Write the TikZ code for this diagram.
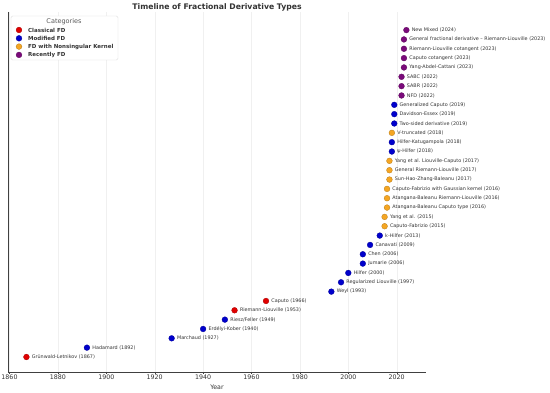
\documentclass[tikz,border=0pt]{standalone}
\usepackage{fontspec}
\setmainfont{DejaVu Sans}
\definecolor{cr}{HTML}{E00000}
\definecolor{cb}{HTML}{0000CC}
\definecolor{co}{HTML}{F5A623}
\definecolor{cp}{HTML}{7A0A7A}
\definecolor{txt}{HTML}{333333}
\begin{document}
\begin{tikzpicture}[x=1pt,y=1pt,
  dot/.style={circle,fill=#1,draw=#1!75!black,line width=0.3pt,inner sep=0pt,minimum size=5.8pt},
  lbl/.style={anchor=west,font=\fontsize{4.85}{6}\selectfont,text=txt,inner sep=0pt},
  ticklbl/.style={anchor=north,font=\fontsize{6.3}{7}\selectfont,text=txt,inner sep=0pt},
  legtxt/.style={anchor=west,font=\bfseries\fontsize{5.5}{7}\selectfont,text=txt,inner sep=0pt},
  gridline/.style={draw=gray!12,line width=0.4pt},
  spine/.style={draw=black!75,line width=0.6pt}]
\useasboundingbox (0,0) rectangle (550,392);
\fill[white] (0,0) rectangle (550,392);
% grid and ticks
\foreach \yy in {1860,1880,...,2020}{
  \pgfmathsetmacro\xx{9.5+(\yy-1860)*2.42}
  \draw[gridline] (\xx,20) -- (\xx,380);
  \draw[black!75,line width=0.4pt] (\xx,20) -- (\xx,18);
  \node[ticklbl] (t\yy) at (\xx,17) {\yy};
}
% spines
\coordinate (o) at (8,20);
\coordinate (xe) at (426,20);
\coordinate (ye) at (8,380);
\draw[spine] (ye) -- (o) -- (xe);
\node[font=\fontsize{6.3}{7}\selectfont,text=txt] (xl) at (217,5) {Year};
\node[font=\bfseries\fontsize{7.7}{9}\selectfont,text=txt] (title) at (217,385) {Timeline of Fractional Derivative Types};
% points
\foreach \i/\yy/\c/\t in {
 0/1867/cr/{Grünwald-Letnikov (1867)},
 1/1892/cb/{Hadamard (1892)},
 2/1927/cb/{Marchaud (1927)},
 3/1940/cb/{Erdélyi-Kober (1940)},
 4/1949/cb/{Riesz/Feller (1949)},
 5/1953/cr/{Riemann-Liouville (1953)},
 6/1966/cr/{Caputo (1966)},
 7/1993/cb/{Weyl (1993)},
 8/1997/cb/{Regularized Liouville (1997)},
 9/2000/cb/{Hilfer (2000)},
 10/2006/cb/{Jumarie (2006)},
 11/2006/cb/{Chen (2006)},
 12/2009/cb/{Canavati (2009)},
 13/2013/cb/{k-Hilfer (2013)},
 14/2015/co/{Caputo-Fabrizio (2015)},
 15/2015/co/{Yang et al. (2015)},
 16/2016/co/{Atangana-Baleanu Caputo type (2016)},
 17/2016/co/{Atangana-Baleanu Riemann-Liouville (2016)},
 18/2016/co/{Caputo-Fabrizio with Gaussian kernel (2016)},
 19/2017/co/{Sun-Hao-Zhang-Baleanu (2017)},
 20/2017/co/{General Riemann-Liouville (2017)},
 21/2017/co/{Yang et al. Liouville-Caputo (2017)},
 22/2018/cb/{ψ-Hilfer (2018)},
 23/2018/cb/{Hilfer-Katugampola (2018)},
 24/2018/co/{V-truncated (2018)},
 25/2019/cb/{Two-sided derivative (2019)},
 26/2019/cb/{Davidson-Essex (2019)},
 27/2019/cb/{Generalized Caputo (2019)},
 28/2022/cp/{NFD (2022)},
 29/2022/cp/{SABR (2022)},
 30/2022/cp/{SABC (2022)},
 31/2023/cp/{Yang-Abdel-Cattani (2023)},
 32/2023/cp/{Caputo cotangent (2023)},
 33/2023/cp/{Riemann-Liouville cotangent (2023)},
 34/2023/cp/{General fractional derivative – Riemann-Liouville (2023)},
 35/2024/cp/{New Mixed (2024)}}{
  \pgfmathsetmacro\xx{9.5+(\yy-1860)*2.42}
  \pgfmathsetmacro\yp{35+\i*9.34}
  \node[dot=\c] (p\i) at (\xx,\yp) {};
  \node[lbl] (l\i) at ([xshift=2.2pt]p\i.east) {\t};
}
% legend
\draw[draw=gray!25,fill=white,rounded corners=1.5pt,line width=0.4pt] (11,332) rectangle (118,376);
\node[font=\fontsize{6.5}{7}\selectfont,text=black!65] (legt) at (64,370.5) {Categories};
\foreach \j/\c/\t in {0/cr/{Classical FD},1/cb/{Modified FD},2/co/{FD with Nonsingular Kernel},3/cp/{Recently FD}}{
  \pgfmathsetmacro\yp{362-\j*8.3}
  \node[dot=\c] (k\j) at (19,\yp) {};
  \node[legtxt] (kl\j) at (28,\yp) {\t};
}
\end{tikzpicture}
\end{document}
